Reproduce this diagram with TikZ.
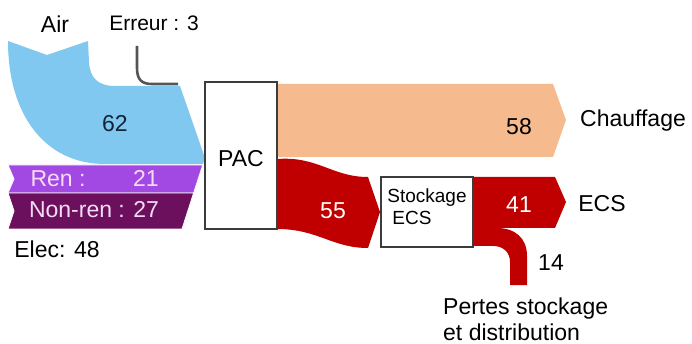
\documentclass[tikz,border=0pt]{standalone}
\usepackage{fontspec}
\setmainfont{Liberation Sans}
\definecolor{airblue}{RGB}{128,200,240}
\definecolor{renviolet}{RGB}{163,73,227}
\definecolor{nonrenpurple}{RGB}{108,16,94}
\definecolor{chaufforange}{RGB}{245,186,142}
\definecolor{ecsred}{RGB}{192,0,0}
\definecolor{errgray}{RGB}{85,85,85}
\definecolor{boxgray}{RGB}{60,60,60}
\definecolor{lightpink}{RGB}{245,220,245}
\definecolor{navytext}{RGB}{20,35,55}
\begin{document}
\begin{tikzpicture}[x=1pt,y=-1pt,
  lbl/.style={font=\fontsize{23}{27}\selectfont, inner sep=0pt, anchor=base},
  band/.style={draw=white, line width=0.8pt},
  boxst/.style={draw=boxgray, line width=1.4pt, fill=white, inner sep=0pt},
  errline/.style={draw=errgray, line width=2.6pt}]
\useasboundingbox (0,0) rectangle (692,344);

% Air flow
\fill[airblue] (8,41) -- (47,55) -- (88,41) -- (89,62)
  .. controls (90,78) and (98,86) .. (115,86) -- (180,86) -- (205,158) -- (203,164)
  -- (105,164) .. controls (45,164) and (8,115) .. (8,41) -- cycle;
% Elec renewable / non-renewable
\path[band, fill=renviolet] (8,165) -- (202.7,165) -- (193.6,193) -- (8,193) -- (14,179) -- cycle;
\path[band, fill=nonrenpurple] (8,193) -- (193.6,193) -- (182,229) -- (8,229) -- (14,211) -- cycle;

% Erreur line
\draw[errline] (137,46) -- (137,68) .. controls (137,80) and (142,84) .. (152,84) -- (178,84);

% Chauffage
\fill[chaufforange] (277,84) -- (553,84) -- (566,120) -- (553,157) -- (277,157) -- cycle;
% PAC -> Stockage
\fill[ecsred] (277,159) .. controls (318,156) and (332,177) .. (368,177) -- (380,212) -- (368,248)
  .. controls (332,248) and (318,229) .. (277,229) -- cycle;
% Stockage -> ECS and losses
\fill[ecsred] (473,177) -- (555,177) -- (566,202) -- (555,228) -- (497,228)
  .. controls (515,228) and (527,238) .. (527,256) -- (527,285) -- (510,285) -- (510,262)
  .. controls (510,252) and (503,246) .. (493,246) -- (473,246) -- cycle;

% Boxes
\node[boxst, minimum width=72pt, minimum height=147pt] (pac) at (241,155.5) {};
\node[boxst, minimum width=92pt, minimum height=70pt] (stock) at (427,212) {};

% Labels
\node[lbl] (air) at (55,33) {Air};
\node[lbl, font=\fontsize{21}{25}\selectfont] (err) at (154,31) {Erreur : 3};
\node[lbl, text=navytext] (v62) at (115,132) {62};
\node[lbl] (pactext) at (241,167) {PAC};
\node[lbl, text=lightpink] (ren) at (58,187) {Ren :};
\node[lbl, text=lightpink] (v21) at (146,187) {21};
\node[lbl, text=lightpink] (nonren) at (94,218) {Non-ren : 27};
\node[lbl] (elec) at (57,258) {Elec: 48};
\node[lbl, text=white] (v55) at (333,219) {55};
\node[lbl, font=\fontsize{19}{22}\selectfont] (st1) at (427,203) {Stockage};
\node[lbl, font=\fontsize{19}{22}\selectfont] (st2) at (412,225) {ECS};
\node[lbl] (v58) at (519,135) {58};
\node[lbl] (chauff) at (633,127) {Chauffage};
\node[lbl, text=white] (v41) at (519,213) {41};
\node[lbl] (ecs) at (602,212) {ECS};
\node[lbl] (v14) at (551,270) {14};
\node[lbl, anchor=base west] (pertes1) at (443,314) {Pertes stockage};
\node[lbl, anchor=base west] (pertes2) at (443,340) {et distribution};
\end{tikzpicture}
\end{document}
